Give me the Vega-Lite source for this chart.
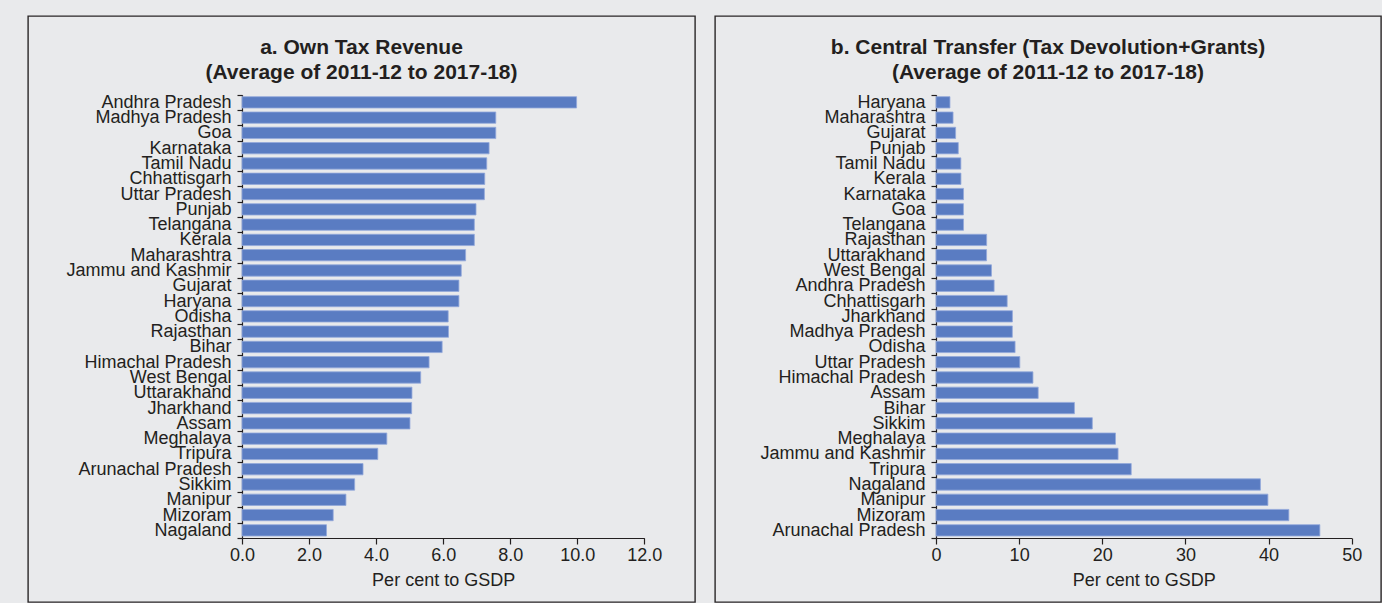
{
  "$schema": "https://vega.github.io/schema/vega-lite/v6.json",
  "background": "#e9eaec",
  "padding": {"left": 27, "top": 6, "right": 0, "bottom": 0},
  "spacing": 20,
  "bounds": "flush",
  "config": {
    "font": "Liberation Sans",
    "view": {"stroke": "#2a2627", "strokeWidth": 1.4, "fill": "#e9eaec"},
    "title": {"offset": -76, "fontSize": 21, "fontWeight": "bold", "color": "#231f20", "anchor": "middle", "frame": "group", "baseline": "top", "lineHeight": 25},
    "axis": {
      "domainColor": "#231f20",
      "tickColor": "#231f20",
      "labelColor": "#231f20",
      "titleColor": "#231f20",
      "labelFont": "Liberation Sans",
      "titleFont": "Liberation Sans",
      "labelFontSize": 18,
      "titleFontSize": 18,
      "titleFontWeight": "normal",
      "domainWidth": 1.2,
      "tickWidth": 1.2,
      "labelFlush": false,
      "grid": false
    }
  },
  "datasets": {
    "own": [
      {"state": "Andhra Pradesh", "value": 9.98},
      {"state": "Madhya Pradesh", "value": 7.57},
      {"state": "Goa", "value": 7.57},
      {"state": "Karnataka", "value": 7.37},
      {"state": "Tamil Nadu", "value": 7.30},
      {"state": "Chhattisgarh", "value": 7.24},
      {"state": "Uttar Pradesh", "value": 7.23},
      {"state": "Punjab", "value": 6.98},
      {"state": "Telangana", "value": 6.93},
      {"state": "Kerala", "value": 6.93},
      {"state": "Maharashtra", "value": 6.67},
      {"state": "Jammu and Kashmir", "value": 6.54},
      {"state": "Gujarat", "value": 6.47},
      {"state": "Haryana", "value": 6.47},
      {"state": "Odisha", "value": 6.15},
      {"state": "Rajasthan", "value": 6.16},
      {"state": "Bihar", "value": 5.97},
      {"state": "Himachal Pradesh", "value": 5.58},
      {"state": "West Bengal", "value": 5.33},
      {"state": "Uttarakhand", "value": 5.07},
      {"state": "Jharkhand", "value": 5.06},
      {"state": "Assam", "value": 5.01},
      {"state": "Meghalaya", "value": 4.32},
      {"state": "Tripura", "value": 4.05},
      {"state": "Arunachal Pradesh", "value": 3.61},
      {"state": "Sikkim", "value": 3.36},
      {"state": "Manipur", "value": 3.10},
      {"state": "Mizoram", "value": 2.72},
      {"state": "Nagaland", "value": 2.52}
    ],
    "central": [
      {"state": "Haryana", "value": 1.68},
      {"state": "Maharashtra", "value": 2.05},
      {"state": "Gujarat", "value": 2.36},
      {"state": "Punjab", "value": 2.68},
      {"state": "Tamil Nadu", "value": 2.99},
      {"state": "Kerala", "value": 3.0},
      {"state": "Karnataka", "value": 3.31},
      {"state": "Goa", "value": 3.30},
      {"state": "Telangana", "value": 3.31},
      {"state": "Rajasthan", "value": 6.09},
      {"state": "Uttarakhand", "value": 6.08},
      {"state": "West Bengal", "value": 6.67},
      {"state": "Andhra Pradesh", "value": 6.99},
      {"state": "Chhattisgarh", "value": 8.56},
      {"state": "Jharkhand", "value": 9.19},
      {"state": "Madhya Pradesh", "value": 9.18},
      {"state": "Odisha", "value": 9.51},
      {"state": "Uttar Pradesh", "value": 10.08},
      {"state": "Himachal Pradesh", "value": 11.66},
      {"state": "Assam", "value": 12.29},
      {"state": "Bihar", "value": 16.65},
      {"state": "Sikkim", "value": 18.8},
      {"state": "Meghalaya", "value": 21.59},
      {"state": "Jammu and Kashmir", "value": 21.9},
      {"state": "Tripura", "value": 23.48},
      {"state": "Nagaland", "value": 39.02},
      {"state": "Manipur", "value": 39.92},
      {"state": "Mizoram", "value": 42.44},
      {"state": "Arunachal Pradesh", "value": 46.17}
    ]
  },
  "hconcat": [
    {
      "width": 667,
      "height": 586,
      "title": {"text": ["a. Own Tax Revenue", "(Average of 2011-12 to 2017-18)"]},
      "data": {"name": "own"},
      "mark": {"type": "bar", "color": "#5a7cc2", "stroke": "#93a8da", "strokeWidth": 0.8, "height": {"band": 0.74}},
      "encoding": {
        "y": {
          "field": "state", "type": "nominal", "sort": null,
          "scale": {"range": [78.7, 522], "paddingInner": 0, "paddingOuter": 0},
          "axis": {"orient": "left", "offset": -214, "title": null, "tickBand": "extent", "tickSize": 5, "labelPadding": 6, "labelLimit": 400}
        },
        "x": {
          "field": "value", "type": "quantitative",
          "scale": {"domain": [0, 12], "range": [214, 616.3], "nice": false},
          "axis": {"orient": "bottom", "offset": -64, "values": [0, 2, 4, 6, 8, 10, 12], "format": ".1f", "tickSize": 6, "labelPadding": 2, "title": "Per cent to GSDP", "titlePadding": 7}
        }
      }
    },
    {
      "width": 666,
      "height": 586,
      "title": {"text": ["b. Central Transfer (Tax Devolution+Grants)", "(Average of 2011-12 to 2017-18)"]},
      "data": {"name": "central"},
      "mark": {"type": "bar", "color": "#5a7cc2", "stroke": "#93a8da", "strokeWidth": 0.8, "height": {"band": 0.74}},
      "encoding": {
        "y": {
          "field": "state", "type": "nominal", "sort": null,
          "scale": {"range": [78.7, 522], "paddingInner": 0, "paddingOuter": 0},
          "axis": {"orient": "left", "offset": -221, "title": null, "tickBand": "extent", "tickSize": 5, "labelPadding": 6, "labelLimit": 400}
        },
        "x": {
          "field": "value", "type": "quantitative",
          "scale": {"domain": [0, 50], "range": [221, 636.7], "nice": false},
          "axis": {"orient": "bottom", "offset": -64, "values": [0, 10, 20, 30, 40, 50], "format": "d", "tickSize": 6, "labelPadding": 2, "title": "Per cent to GSDP", "titlePadding": 7}
        }
      }
    }
  ]
}
